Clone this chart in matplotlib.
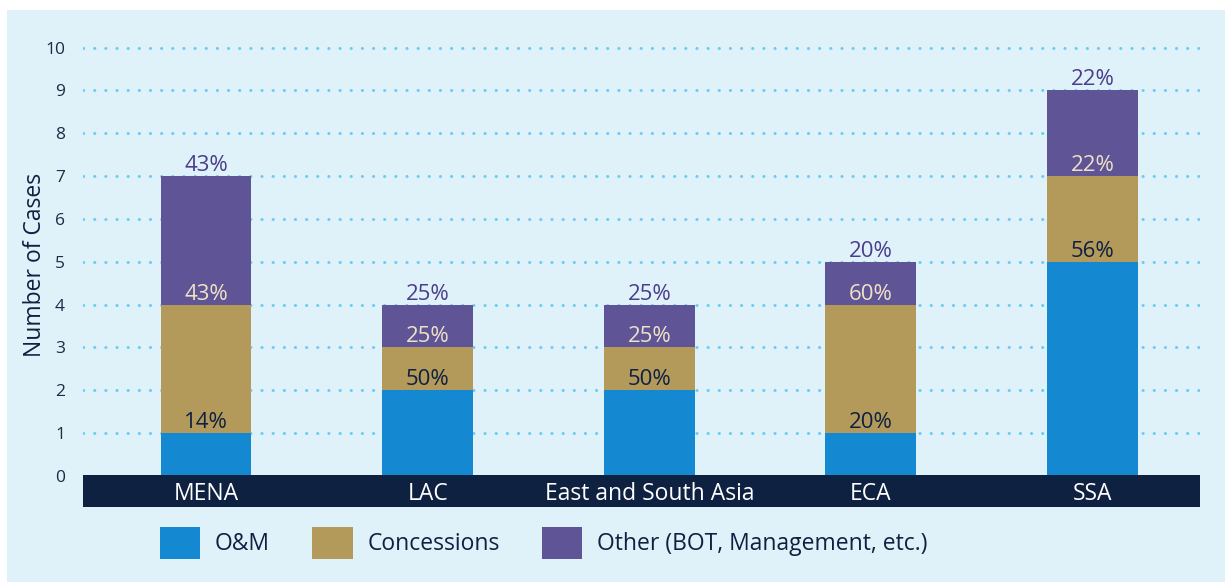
import matplotlib.pyplot as plt
from matplotlib.patches import Rectangle, Patch

plt.rcParams['font.family'] = ['Open Sans', 'DejaVu Sans']

categories = ['MENA', 'LAC', 'East and South Asia', 'ECA', 'SSA']
om = [1, 2, 2, 1, 5]
concessions = [3, 1, 1, 3, 2]
other = [3, 1, 1, 1, 2]
series_names = ['O&M', 'Concessions', 'Other (BOT, Management, etc.)']

c_om = '#1588d2'
c_conc = '#b39a5b'
c_other = '#5f5596'
navy = '#0e2140'
bg = '#dff2fa'

fig = plt.figure(figsize=(12.25, 5.82), dpi=100, facecolor='white')
fig.patches.append(Rectangle((7 / 1225, 0), 1 - 7 / 1225, 1 - 10 / 582,
                             transform=fig.transFigure, facecolor=bg,
                             edgecolor='none', zorder=-10))

ax = fig.add_axes([83 / 1225, 106 / 582, 1117 / 1225, 437 / 582])
ax.set_facecolor('none')
ax.set_xlim(-0.555, 4.485)
ax.set_ylim(0, 10.2)

x = list(range(len(categories)))
bottoms2 = [a for a in om]
bottoms3 = [a + b for a, b in zip(om, concessions)]
totals = [a + b + c for a, b, c in zip(om, concessions, other)]

w = 0.41
ax.bar(x, om, width=w, color=c_om, zorder=3)
ax.bar(x, concessions, width=w, bottom=bottoms2, color=c_conc, zorder=3)
ax.bar(x, other, width=w, bottom=bottoms3, color=c_other, zorder=3)

for i in x:
    tops = [om[i], bottoms3[i], totals[i]]
    vals = [om[i], concessions[i], other[i]]
    cols = [navy, '#efe2c4', '#4b3d8c']
    for top, v, col in zip(tops, vals, cols):
        ax.annotate(f'{round(100 * v / totals[i])}%', (i, top),
                    xytext=(0, 0), textcoords='offset points',
                    ha='center', va='bottom', fontsize=16, color=col,
                    zorder=5)

for y in range(1, 11):
    ax.axhline(y, color='#6ccdf3', linewidth=2.2,
               linestyle=(0, (0.05, 3.6)), dash_capstyle='round', zorder=1)

for s in ax.spines.values():
    s.set_visible(False)
ax.set_yticks(range(0, 11))
ax.tick_params(axis='y', length=0, pad=13, labelsize=12.5, labelcolor='#1d2b45')
ax.set_xticks([])

# navy category band
band = fig.add_axes([83 / 1225, 75 / 582, 1117 / 1225, 32 / 582])
band.set_facecolor(navy)
band.set_xlim(ax.get_xlim())
band.set_ylim(0, 1)
band.set_xticks([])
band.set_yticks([])
for s in band.spines.values():
    s.set_visible(False)
for i, c in zip(x, categories):
    band.text(i, 0.42, c, ha='center', va='center', color='white', fontsize=16.5)

fig.text(35 / 1225, 1 - 265 / 582, 'Number of Cases', rotation=90,
         ha='center', va='center', fontsize=16.5, color=navy)

handles = [Patch(facecolor=c_om), Patch(facecolor=c_conc), Patch(facecolor=c_other)]
leg = fig.legend(handles, series_names, loc='center left',
                 bbox_to_anchor=(160 / 1225, 1 - 543 / 582), ncol=3,
                 frameon=False, fontsize=16.5, handlelength=1.75, handleheight=1.75,
                 handletextpad=0.65, columnspacing=1.85, borderaxespad=0,
                 borderpad=0)
for t in leg.get_texts():
    t.set_color(navy)

fig.savefig('out.png', dpi=100, facecolor='white')
